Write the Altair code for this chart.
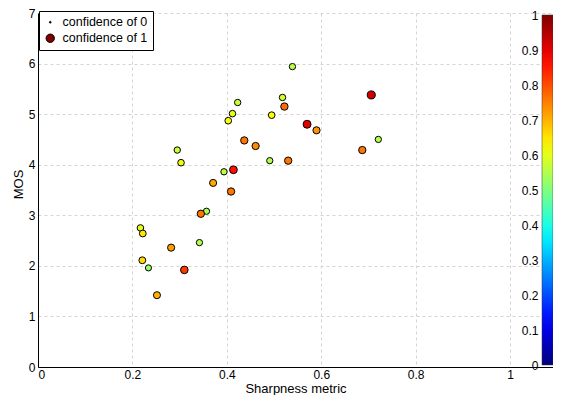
import altair as alt
import pandas as pd

# ---- data ----
sharpness = [0.539, 0.518, 0.522, 0.423, 0.412, 0.403, 0.495, 0.437, 0.461, 0.295,
             0.303, 0.491, 0.530, 0.394, 0.414, 0.371, 0.409, 0.357, 0.345, 0.217,
             0.222, 0.282, 0.342, 0.221, 0.234, 0.310, 0.252, 0.706, 0.570, 0.590,
             0.721, 0.687]
mos = [5.94, 5.33, 5.15, 5.23, 5.01, 4.87, 4.98, 4.48, 4.37, 4.29,
       4.04, 4.08, 4.08, 3.86, 3.90, 3.64, 3.47, 3.08, 3.03, 2.75,
       2.64, 2.36, 2.46, 2.11, 1.96, 1.92, 1.42, 5.38, 4.80, 4.68,
       4.50, 4.29]
confidence = [0.56, 0.58, 0.77, 0.57, 0.60, 0.62, 0.62, 0.76, 0.74, 0.57,
              0.61, 0.55, 0.76, 0.56, 0.86, 0.71, 0.76, 0.54, 0.76, 0.60,
              0.65, 0.72, 0.55, 0.66, 0.52, 0.82, 0.70, 0.92, 0.90, 0.73,
              0.55, 0.76]

x_ticks = [0, 0.2, 0.4, 0.6, 0.8, 1.0]
y_ticks = [0, 1, 2, 3, 4, 5, 6, 7]
cbar_ticks = [0, 0.1, 0.2, 0.3, 0.4, 0.5, 0.6, 0.7, 0.8, 0.9, 1.0]
legend_values = [0, 1]

# jet colormap stops
jet_stops = [0, 0.125, 0.25, 0.375, 0.5, 0.625, 0.75, 0.875, 1.0]
jet_colors = ["#00007f", "#0000ff", "#007fff", "#00ffff", "#7fff7f",
              "#ffff00", "#ff7f00", "#ff0000", "#7f0000"]

df = pd.DataFrame({
    "sharpness": sharpness,
    "mos": mos,
    "confidence": confidence,
    "conf_size": confidence,
})
cbar_df = pd.DataFrame({"v": cbar_ticks})

W, H = 515, 354
FONT = "Liberation Sans"
CB_X, CB_TOP, CB_LEN = 504, 2, 350          # colorbar placement inside the plot
cb_lo = -(H - CB_TOP - CB_LEN) / CB_LEN
cb_hi = cb_lo + H / CB_LEN

points = alt.Chart(df).mark_circle(
    stroke="black", strokeWidth=1, opacity=1
).encode(
    x=alt.X("sharpness:Q",
            scale=alt.Scale(domain=[0, 1.091], nice=False, zero=False),
            axis=alt.Axis(values=x_ticks, title="Sharpness metric", format="~g",
                          titleY=25, titleBaseline="alphabetic", labelPadding=2)),
    y=alt.Y("mos:Q",
            scale=alt.Scale(domain=[0, 7], nice=False, zero=False),
            axis=alt.Axis(values=y_ticks, title="MOS", format="d",
                          titleX=-20, titleY=171, titleBaseline="middle",
                          labelPadding=3)),
    color=alt.Color("confidence:Q",
                    scale=alt.Scale(domain=jet_stops, range=jet_colors, interpolate="rgb"),
                    legend=alt.Legend(type="gradient", orient="none", legendX=CB_X,
                                      legendY=CB_TOP, direction="vertical",
                                      gradientLength=CB_LEN, gradientThickness=11,
                                      title=None, labelExpr="''", values=[0, 1],
                                      padding=0,
                                      gradientStrokeColor="#333333",
                                      gradientStrokeWidth=0.5)),
    size=alt.Size("conf_size:Q",
                  scale=alt.Scale(domain=[0, 1], range=[3, 70]),
                  legend=alt.Legend(orient="none", legendX=1, legendY=-2, title=None,
                                    values=legend_values, format="d",
                                    labelExpr="'confidence of ' + datum.label",
                                    symbolFillColor="#800000", symbolStrokeColor="black",
                                    symbolStrokeWidth=1, strokeColor="black",
                                    fillColor="white", padding=5, rowPadding=3,
                                    labelOffset=6,
                                    labelFontSize=12.5, labelFont=FONT,
                                    labelColor="black", symbolType="circle")),
)

cbar_labels = alt.Chart(cbar_df).mark_point(opacity=0).encode(
    y=alt.Y("v:Q",
            scale=alt.Scale(domain=[cb_lo, cb_hi], nice=False, zero=False),
            axis=alt.Axis(orient="left", offset=-(CB_X - 3), values=cbar_ticks,
                          format="~g", title=None, grid=False, domain=False,
                          ticks=False, labelPadding=1, labelFontSize=12)),
)

chart = alt.layer(points, cbar_labels).resolve_scale(
    y="independent"
).properties(
    width=W, height=H,
    autosize=alt.AutoSizeParams(type="none"),
    padding={"left": 30, "top": 5, "right": 0, "bottom": 28},
).configure_view(
    stroke=None
).configure_axis(
    domainColor="black", domainWidth=1,
    grid=True, gridColor="#d4d4d4", gridDash=[3, 3], gridWidth=1,
    ticks=False,
    labelFont=FONT, labelFontSize=12, labelColor="black",
    titleFont=FONT, titleFontSize=13, titleFontWeight="normal", titleColor="black",
).configure_legend(
    labelFont=FONT, labelFontSize=12.5, labelColor="black",
)

chart.save("out.html", embed_options={"renderer": "svg", "actions": False})
